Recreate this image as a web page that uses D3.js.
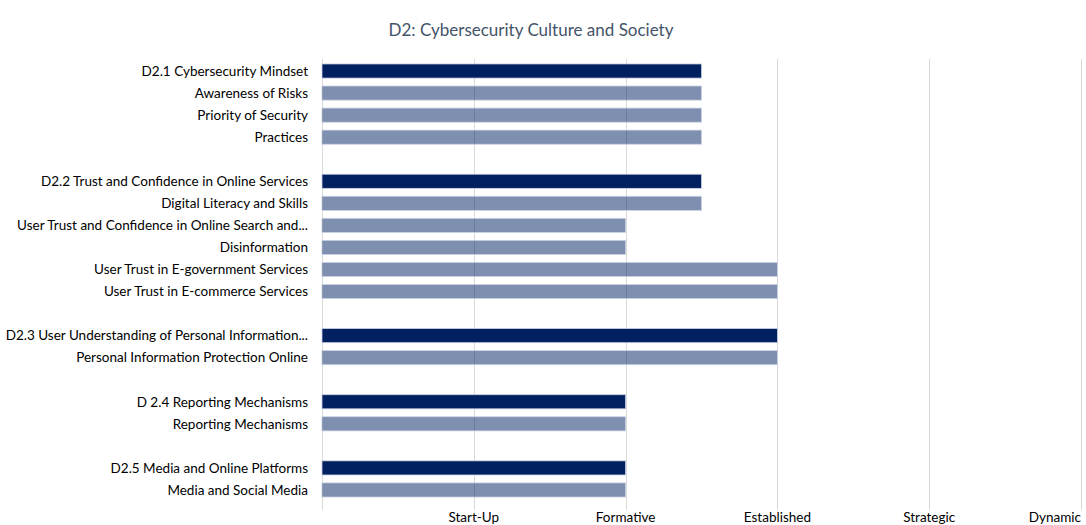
<!DOCTYPE html>
<html>
<head>
<meta charset="utf-8">
<script src="https://cdn.jsdelivr.net/npm/d3@7"></script>
<style>
  html, body { margin: 0; padding: 0; background: #fff; }
  svg { display: block; }
</style>
</head>
<body>
<svg id="chart"></svg>
<script>
// categories, top to bottom ("" = spacer row between groups)
const categories = [
  "D2.1 Cybersecurity Mindset",
  "Awareness of Risks",
  "Priority of Security",
  "Practices",
  "",
  "D2.2 Trust and Confidence in Online Services",
  "Digital Literacy and Skills",
  "User Trust and Confidence in Online Search and...",
  "Disinformation",
  "User Trust in E-government Services",
  "User Trust in E-commerce Services",
  "",
  "D2.3 User Understanding of Personal Information...",
  "Personal Information Protection Online",
  "",
  "D 2.4 Reporting Mechanisms",
  "Reporting Mechanisms",
  "",
  "D2.5 Media and Online Platforms",
  "Media and Social Media"
];
const values = [2.5, 2.5, 2.5, 2.5, null, 2.5, 2.5, 2, 2, 3, 3, null, 3, 3, null, 2, 2, null, 2, 2];
const isHeader = [1, 0, 0, 0, 0, 1, 0, 0, 0, 0, 0, 0, 1, 0, 0, 1, 0, 0, 1, 0];
const tickLabels = ["Start-Up", "Formative", "Established", "Strategic", "Dynamic"];

const width = 1086, height = 525;
const font = "Lato, 'Open Sans', sans-serif";
const navy = "#002060";

const svg = d3.select("#chart").attr("width", width).attr("height", height);

const x = d3.scaleLinear().domain([0, 5]).range([322, 1081]);
const y = d3.scaleBand()
  .domain(d3.range(categories.length))
  .range([60, 501])
  .paddingInner(0.36)
  .paddingOuter(0.18);

// title
svg.append("text")
  .attr("x", 531).attr("y", 36)
  .attr("text-anchor", "middle")
  .attr("font-family", font).attr("font-size", 17)
  .attr("fill", "#44546a")
  .text("D2: Cybersecurity Culture and Society");

// gridlines (including the axis at 0)
svg.append("g").selectAll("line")
  .data(d3.range(0, 6))
  .join("line")
  .attr("x1", d => Math.round(x(d)) + 0.5)
  .attr("x2", d => Math.round(x(d)) + 0.5)
  .attr("y1", 59).attr("y2", 510)
  .attr("stroke", "#d9d9d9").attr("stroke-width", 1);

// bars
const rows = categories.map((c, i) => ({ i, c, v: values[i], h: isHeader[i] }))
  .filter(d => d.v != null);

svg.append("g").selectAll("rect")
  .data(rows)
  .join("rect")
  .attr("x", x(0))
  .attr("y", d => y(d.i))
  .attr("width", d => x(d.v) - x(0))
  .attr("height", y.bandwidth())
  .attr("fill", navy)
  .attr("fill-opacity", d => d.h ? 1 : 0.5)
  .attr("stroke", "#c9d1e3").attr("stroke-width", 0.8);

// category labels
svg.append("g").selectAll("text")
  .data(rows)
  .join("text")
  .attr("x", 308)
  .attr("y", d => y(d.i) + y.bandwidth() / 2)
  .attr("dy", "0.35em")
  .attr("text-anchor", "end")
  .attr("font-family", font).attr("font-size", 13.5)
  .attr("fill", "#000")
  .text(d => d.c);

// x tick labels
svg.append("g").selectAll("text")
  .data(tickLabels)
  .join("text")
  .attr("x", (d, i) => i === 4 ? 1081 : x(i + 1))
  .attr("y", 522)
  .attr("text-anchor", (d, i) => i === 4 ? "end" : "middle")
  .attr("font-family", font).attr("font-size", 13.5)
  .attr("fill", "#000")
  .text(d => d);
</script>
</body>
</html>
